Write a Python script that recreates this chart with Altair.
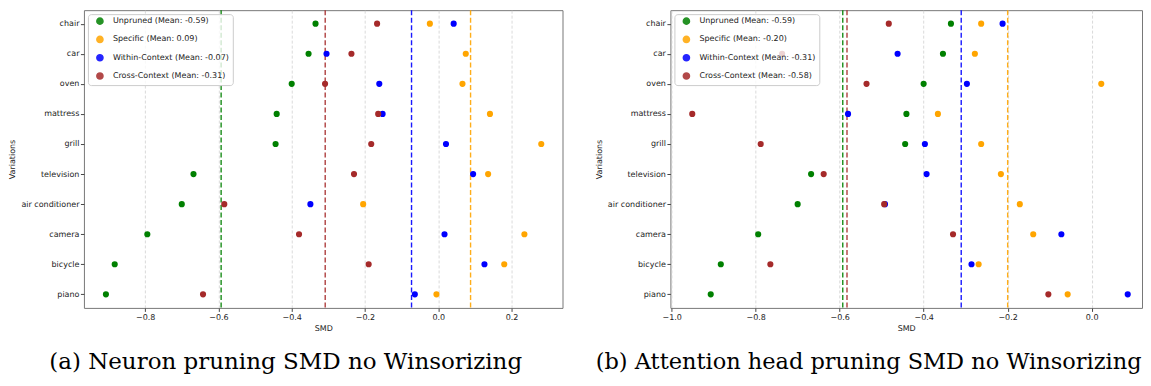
import altair as alt
import pandas as pd

categories = ["chair", "car", "oven", "mattress", "grill", "television",
              "air conditioner", "camera", "bicycle", "piano"]
series_names = ["Unpruned", "Specific", "Within-Context", "Cross-Context"]
series_colors = ["green", "orange", "blue", "brown"]

# (a) Neuron pruning
neuron_unpruned = [-0.335, -0.354, -0.400, -0.441, -0.444, -0.668, -0.700, -0.794, -0.883, -0.907]
neuron_specific = [-0.023, 0.075, 0.066, 0.141, 0.281, 0.136, -0.205, 0.235, 0.180, -0.005]
neuron_within = [0.042, -0.305, -0.161, -0.152, 0.021, 0.095, -0.349, 0.017, 0.126, -0.064]
neuron_cross = [-0.167, -0.237, -0.309, -0.164, -0.183, -0.230, -0.584, -0.380, -0.190, -0.642]

# (b) Attention head pruning
head_unpruned = [-0.335, -0.354, -0.400, -0.441, -0.444, -0.668, -0.700, -0.794, -0.883, -0.907]
head_specific = [-0.263, -0.278, 0.023, -0.366, -0.263, -0.216, -0.171, -0.139, -0.269, -0.057]
head_within = [-0.212, -0.462, -0.297, -0.580, -0.397, -0.393, -0.492, -0.072, -0.286, 0.086]
head_cross = [-0.483, -0.737, -0.536, -0.951, -0.788, -0.638, -0.494, -0.330, -0.765, -0.103]

neuron_ticks = [-0.8, -0.6, -0.4, -0.2, 0.0, 0.2]
head_ticks = [-1.0, -0.8, -0.6, -0.4, -0.2, 0.0]

caption_a = "(a) Neuron pruning SMD no Winsorizing"
caption_b = "(b) Attention head pruning SMD no Winsorizing"


def panel(values, x_domain, x_ticks, width, caption, caption_size):
    rows = []
    labels = []
    for name, vals in zip(series_names, values):
        mean = sum(vals) / len(vals)
        lab = f"{name} (Mean: {mean:.2f})"
        labels.append(lab)
        for cat, v in zip(categories, vals):
            rows.append({"Variation": cat, "SMD": v, "series": lab})
    df = pd.DataFrame(rows)

    xscale = alt.Scale(domain=x_domain, nice=False, zero=False)
    xaxis = alt.Axis(values=x_ticks, format=".1f", title="SMD", grid=True)
    cscale = alt.Scale(domain=labels, range=series_colors)

    zero = alt.Chart(pd.DataFrame({"SMD": [0.0]})).mark_rule(
        color="gray", strokeDash=[5, 2.5], strokeWidth=1.4, opacity=0.85
    ).encode(x=alt.X("SMD:Q", scale=xscale, axis=xaxis))

    means = alt.Chart(df).transform_aggregate(
        SMD="mean(SMD)", groupby=["series"]
    ).mark_rule(strokeDash=[5, 2.5], strokeWidth=1.4, opacity=0.9).encode(
        x=alt.X("SMD:Q", scale=xscale, axis=xaxis),
        color=alt.Color("series:N", scale=cscale),
    )

    points = alt.Chart(df).mark_circle(size=38, opacity=1).encode(
        x=alt.X("SMD:Q", scale=xscale, axis=xaxis),
        y=alt.Y("Variation:N", sort=categories,
                scale=alt.Scale(type="point", padding=0.45),
                axis=alt.Axis(title="Variations", grid=False, labelPadding=1.5, titlePadding=4)),
        color=alt.Color("series:N", scale=cscale),
    )

    return alt.layer(zero, means, points).encode(
        color=alt.Color("series:N", scale=cscale,
                        legend=alt.Legend(orient="top-left", offset=4, title=None,
                                          symbolType="circle", symbolSize=38,
                                          labelFont="DejaVu Sans", labelFontSize=8, labelColor="#222",
                                          fillColor="rgba(255,255,255,0.8)", strokeColor="#cccccc",
                                          cornerRadius=3, padding=3, rowPadding=4.3,
                                          symbolOffset=5, labelOffset=9)),
    ).properties(
        width=width, height=298,
        title=alt.TitleParams(caption, orient="bottom", font="DejaVu Serif", fontSize=caption_size,
                              fontWeight="normal", color="black", offset=19, frame="bounds"),
    )


left = panel([neuron_unpruned, neuron_specific, neuron_within, neuron_cross],
             [-0.967, 0.339], neuron_ticks, 479, caption_a, 23)
right = panel([head_unpruned, head_specific, head_within, head_cross],
              [-1.003, 0.120], head_ticks, 472, caption_b, 22.5)

chart = alt.hconcat(left, right, spacing=31).resolve_scale(
    x="independent", y="independent", color="independent"
).resolve_legend(color="independent").properties(
    padding=0, background="white"
).configure_view(
    stroke="#777777", strokeWidth=1
).configure_axis(
    labelFont="DejaVu Sans", labelFontSize=8, labelColor="#222222",
    titleFont="DejaVu Sans", titleFontSize=8, titleFontWeight="normal", titleColor="#222222",
    tickColor="#444444", tickSize=3.5, domain=False, labelPadding=2, titlePadding=3,
    gridColor="#d0d0d0", gridDash=[3, 2], gridWidth=0.8,
)

chart.save("out.html", embed_options={"renderer": "svg", "actions": False})
